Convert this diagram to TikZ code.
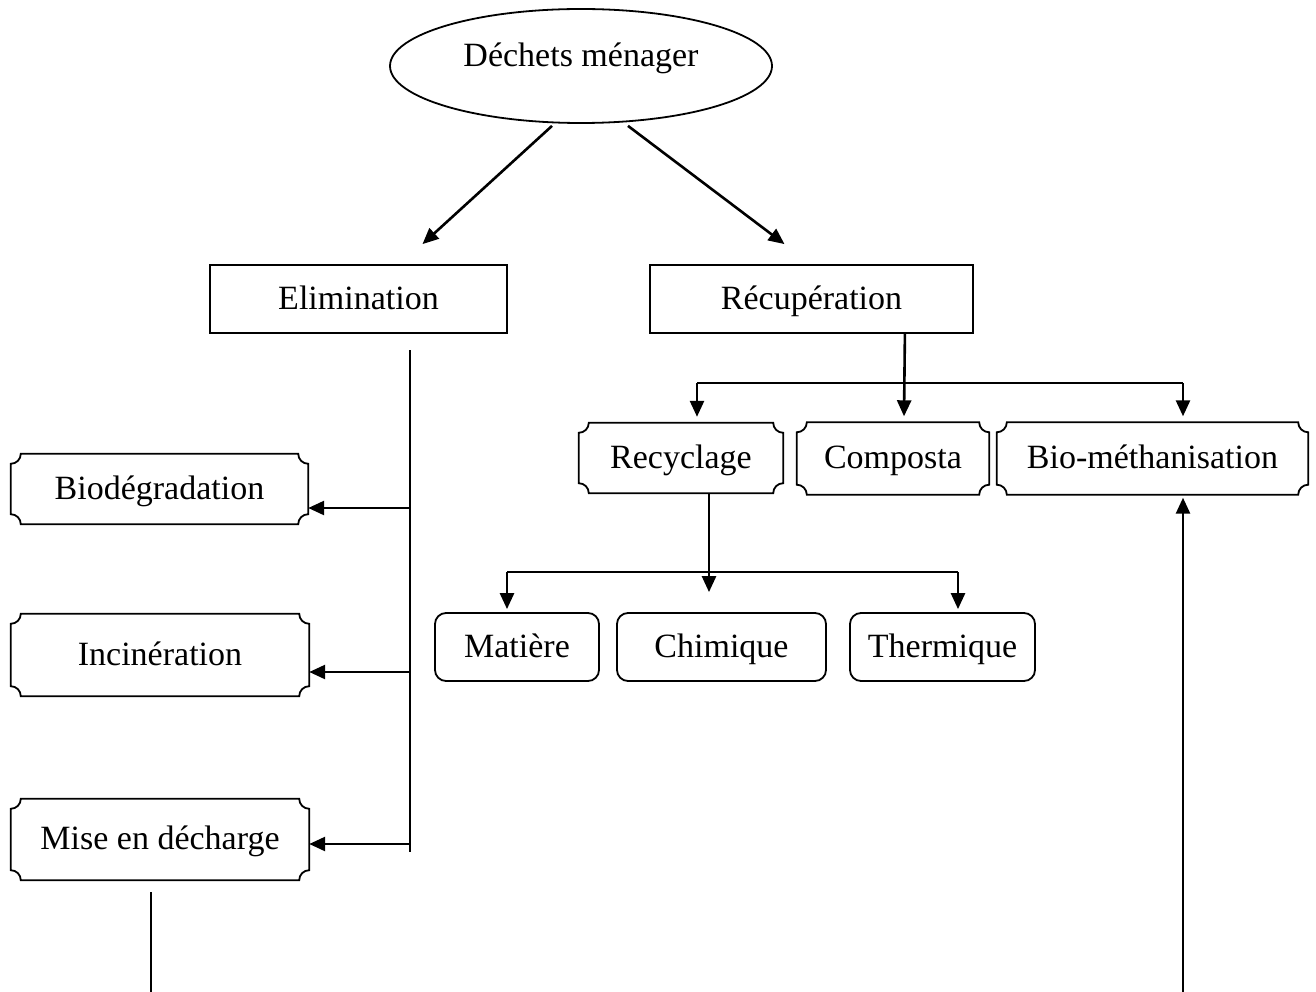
\documentclass[tikz,border=0pt]{standalone}
\usepackage{fontspec}
\setmainfont{Liberation Serif}
\usetikzlibrary{arrows.meta,shapes.geometric}

\begin{document}
\begin{tikzpicture}[x=1pt, y=1pt, every node/.style={font=\fontsize{34}{40}\selectfont, text height=26pt, text depth=6pt}]

		\useasboundingbox (0,0) rectangle (1316,-992);

		% Styles for the boxes and the arrows
		\tikzset{
			mainbox/.style={draw, line width=1.8pt, rectangle, minimum height=68pt},
			plaque/.style={inner sep=0pt, minimum height=70pt},
			roundbox/.style={draw, line width=1.8pt, rounded corners=11pt, minimum height=68pt},
			arr/.style={line width=2.6pt, -{Triangle[length=16pt,width=14pt]}},
			thinline/.style={line width=1.8pt}
		};

		% Top: household waste
		\node[draw, ellipse, line width=1.8pt, minimum width=382pt, minimum height=114pt,
			text height=26pt, text depth=25pt] (dechets) at (581,-66) {Déchets ménager};

		% Level 1
		\node[mainbox, minimum width=297pt] (elim) at (358.5,-299) {Elimination};
		\node[mainbox, minimum width=323pt] (recup) at (811.5,-299) {Récupération};

		\draw[arr] ([xshift=-29pt,yshift=-2pt]dechets.south) -- ([xshift=64pt,yshift=20pt]elim.north);
		\draw[arr] ([xshift=47pt,yshift=-2pt]dechets.south) -- ([xshift=-27pt,yshift=20pt]recup.north);

		% Elimination branch
		\node[plaque, minimum width=297pt] (biod) at (159.5,-489) {Biodégradation};
		\node[plaque, minimum width=298pt, minimum height=82pt] (incin) at (160,-655) {Incinération};
		\node[plaque, minimum width=298pt, minimum height=81pt] (mise) at (160,-839.5) {Mise en décharge};

		\coordinate (etop) at (410,-350);
		\coordinate (ebot) at (410,-852);
		\draw[thinline] (etop) -- (ebot);
		\draw[arr] (410,-508) -- ([yshift=-19pt]biod.east);
		\draw[arr] (410,-672) -- ([yshift=-17pt]incin.east);
		\draw[arr] (410,-844) -- ([yshift=-4.5pt]mise.east);
		\coordinate (miseend) at (151,-992);
		\draw[thinline] ([xshift=-9pt,yshift=-12pt]mise.south) -- (miseend);

		% Récupération branch
		\node[plaque, minimum width=204pt] (recy) at (681,-458) {Recyclage};
		\node[plaque, minimum width=192pt, minimum height=72pt] (comp) at (893,-458.5) {Composta};
		\node[plaque, minimum width=311pt, minimum height=72pt] (meth) at (1152.5,-458.5) {Bio-méthanisation};

		\coordinate (rleft) at (697,-383);
		\coordinate (rright) at (1183,-383);
		\draw[thinline] (rleft) -- (rright);
		\draw[arr] ([xshift=-69pt]recup.south east) -- ([xshift=11pt,yshift=6pt]comp.north);
		\draw[arr] (rleft) -- ([xshift=16pt,yshift=6pt]recy.north);
		\draw[arr] (rright) -- ([xshift=30.5pt,yshift=6pt]meth.north);

		% Bottom arrow into Bio-méthanisation
		\coordinate (methend) at (1183,-992);
		\draw[arr] (methend) -- ([xshift=30.5pt,yshift=-3pt]meth.south);

		% Recyclage: three kinds
		\node[roundbox, minimum width=164pt] (matiere) at (517,-647) {Matière};
		\node[roundbox, minimum width=209pt] (chimique) at (721.5,-647) {Chimique};
		\node[roundbox, minimum width=185pt] (thermique) at (942.5,-647) {Thermique};

		\coordinate (kleft) at (507,-572);
		\coordinate (kright) at (958,-572);
		\draw[thinline] (kleft) -- (kright);
		\draw[arr] ([xshift=28pt]recy.south) -- ([xshift=-12.5pt,yshift=20pt]chimique.north);
		\draw[arr] (kleft) -- ([xshift=-10pt,yshift=3pt]matiere.north);
		\draw[arr] (kright) -- ([xshift=15.5pt,yshift=3pt]thermique.north);

		% Notched outline of the plaque boxes
		\foreach \n in {biod,incin,mise,recy,comp,meth}
			\draw[line width=1.8pt]
				([xshift=10pt]\n.north west) -- ([xshift=-10pt]\n.north east)
				arc[start angle=180, end angle=270, radius=10pt]
				-- ([yshift=10pt]\n.south east)
				arc[start angle=90, end angle=180, radius=10pt]
				-- ([xshift=10pt]\n.south west)
				arc[start angle=0, end angle=90, radius=10pt]
				-- ([yshift=-10pt]\n.north west)
				arc[start angle=-90, end angle=0, radius=10pt] -- cycle;
	\end{tikzpicture}
\end{document}
